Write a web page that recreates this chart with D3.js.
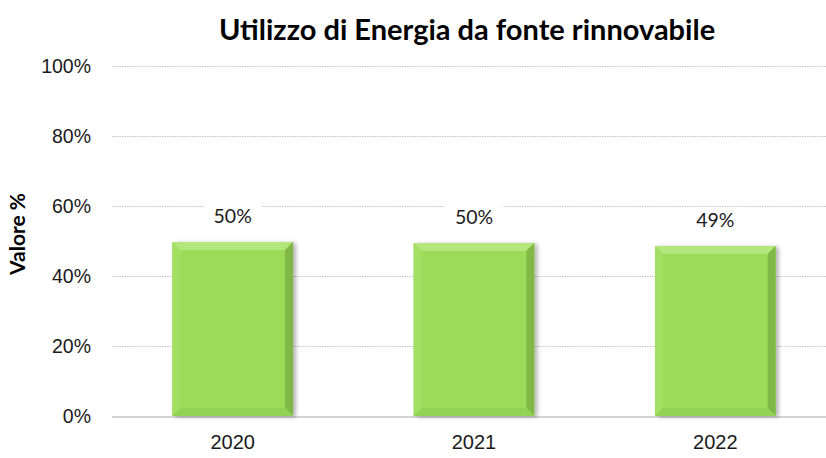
<!DOCTYPE html>
<html lang="it">
<head>
<meta charset="UTF-8">
<title>Utilizzo di Energia da fonte rinnovabile</title>
<script src="https://d3js.org/d3.v7.min.js"></script>
<style>
  body { margin: 0; background: #fff; }
  svg { display: block; font-family: Lato, "Open Sans", sans-serif; }
</style>
</head>
<body>
<div id="chart"></div>
<script>
// dati
const anni = ['2020', '2021', '2022'];
const valori = [0.497, 0.494, 0.486];
const etichette = ['50%', '50%', '49%'];
const tickY = [0, 0.2, 0.4, 0.6, 0.8, 1];

const W = 826, H = 458;
const m = { top: 66, right: -10, bottom: 42, left: 112 };
const iw = W - m.left - m.right, ih = H - m.top - m.bottom;

const svg = d3.select('#chart').append('svg')
  .attr('width', W).attr('height', H);

const defs = svg.append('defs');
const f = defs.append('filter').attr('id', 'ombra')
  .attr('x', '-10%').attr('y', '-10%').attr('width', '130%').attr('height', '130%');
f.append('feGaussianBlur').attr('in', 'SourceAlpha').attr('stdDeviation', 2);
f.append('feOffset').attr('dx', 3).attr('dy', 1).attr('result', 'b');
f.append('feComponentTransfer').append('feFuncA').attr('type', 'linear').attr('slope', 0.3);
const mg = f.append('feMerge');
mg.append('feMergeNode');
mg.append('feMergeNode').attr('in', 'SourceGraphic');

const g = svg.append('g').attr('transform', `translate(${m.left},${m.top})`);

const x = d3.scaleBand().domain(anni).range([0, iw]).paddingInner(0.5).paddingOuter(0.25);
const y = d3.scaleLinear().domain([0, 1]).range([ih, 0]);

// griglia
g.append('g')
  .call(d3.axisLeft(y).tickValues(tickY).tickSize(-iw).tickFormat(d => d3.format('.0%')(d)))
  .call(a => a.select('.domain').remove())
  .call(a => a.selectAll('.tick line')
    .attr('stroke', '#c4c4c4').attr('stroke-dasharray', '1.5,1'))
  .call(a => a.selectAll('.tick text')
    .attr('x', -21).attr('dy', '0.35em')
    .attr('fill', '#1a1a1a').style('font-size', '19.5px'));

// linea base
g.append('line')
  .attr('x1', 0).attr('x2', iw).attr('y1', y(0) + 1).attr('y2', y(0) + 1)
  .attr('stroke', '#d4d4d4').attr('stroke-width', 2);

// barre
const bw = x.bandwidth();
const bv = 8;
const h = (d, i) => ih - y(valori[i]);
const barre = g.selectAll('.barra').data(anni).enter().append('g')
  .attr('class', 'barra')
  .attr('transform', (d, i) => `translate(${x(d)},${y(valori[i])})`);

barre.append('rect')
  .attr('width', bw).attr('height', h)
  .attr('fill', '#9cdb59').attr('filter', 'url(#ombra)');

// bordo smussato
barre.append('polygon').attr('fill', '#b3e77c')
  .attr('points', `0,0 ${bw},0 ${bw - bv},${bv} ${bv},${bv}`);
barre.append('polygon').attr('fill', '#a3df63')
  .attr('points', (d, i) => `0,0 ${bv},${bv} ${bv},${h(d, i) - bv} 0,${h(d, i)}`);
barre.append('polygon').attr('fill', '#7fb846')
  .attr('points', (d, i) => `${bw},0 ${bw},${h(d, i)} ${bw - bv},${h(d, i) - bv} ${bw - bv},${bv}`);
barre.append('polygon').attr('fill', '#92d254')
  .attr('points', (d, i) => `0,${h(d, i)} ${bv},${h(d, i) - bv} ${bw - bv},${h(d, i) - bv} ${bw},${h(d, i)}`);

// etichette valori
const lab = g.selectAll('.lab').data(anni).enter().append('g')
  .attr('class', 'lab')
  .attr('transform', (d, i) => `translate(${x(d) + bw / 2},${y(valori[i]) - 26})`);
lab.append('rect').attr('x', -29).attr('y', -13).attr('width', 58).attr('height', 26).attr('fill', '#fff');
lab.append('text').attr('text-anchor', 'middle').attr('dy', '0.35em')
  .style('font-size', '19.5px').attr('fill', '#1a1a1a')
  .text((d, i) => etichette[i]);

// asse x
g.append('g').attr('transform', `translate(0,${ih})`)
  .call(d3.axisBottom(x).tickSize(0).tickPadding(19))
  .call(a => a.select('.domain').remove())
  .call(a => a.selectAll('text').attr('fill', '#1a1a1a').style('font-size', '20px'));

// titoli
svg.append('text').attr('x', 467).attr('y', 30).attr('dy', '0.35em')
  .attr('text-anchor', 'middle').style('font-size', '29px').style('font-weight', 'bold')
  .text('Utilizzo di Energia da fonte rinnovabile');

svg.append('text').attr('transform', `translate(18,234) rotate(-90)`)
  .attr('text-anchor', 'middle').attr('dy', '0.35em')
  .style('font-size', '21px').style('font-weight', 'bold')
  .text('Valore %');
</script>
</body>
</html>
